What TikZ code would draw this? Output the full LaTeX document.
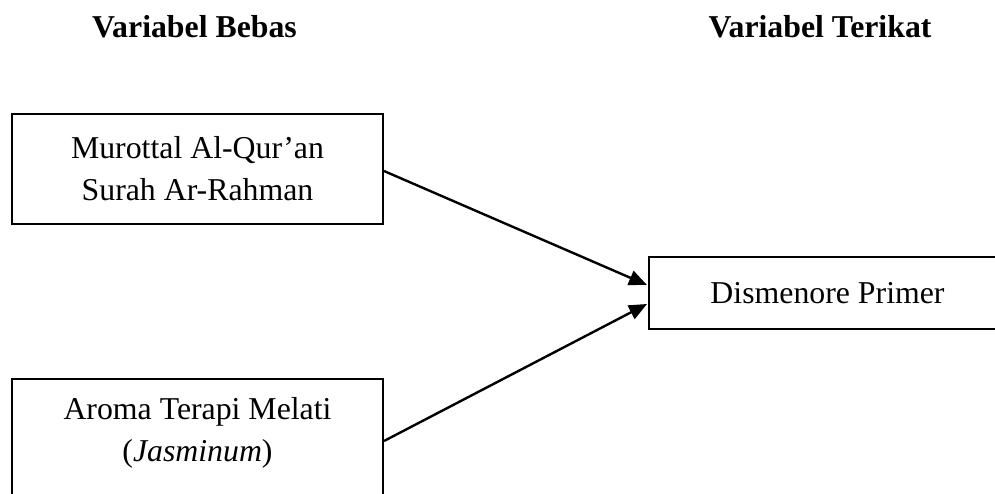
\documentclass[tikz,border=0pt]{standalone}
\usepackage{fontspec}
\setmainfont{Liberation Serif}
\usetikzlibrary{arrows.meta,calc}
\tikzset{
  box/.style={draw=black, line width=2pt, rectangle, inner sep=0pt, align=center},
  txt/.style={inner sep=0pt, align=center},
  ttl/.style={inner sep=0pt, font=\fontsize{31.8}{42}\selectfont\bfseries},
  conn/.style={line width=2.4pt, -{Triangle[length=18pt,width=15pt]}}
}
\begin{document}
\begin{tikzpicture}[x=1pt,y=-1pt,font=\fontsize{31.8}{42}\selectfont]
\useasboundingbox (0,0) rectangle (995,493);
\clip (0,0) rectangle (995,493);
\node[ttl, anchor=base] (tl) at (194.5,37) {Variabel Bebas};
\node[ttl, anchor=base] (tr) at (820,37) {Variabel Terikat};
\node[box, minimum width=371pt, minimum height=110pt] (b1) at (197.5,169)
  {Murottal Al-Qur’an\\Surah Ar-Rahman};
\node[box, anchor=north, minimum width=371pt, minimum height=160pt] (b3) at (197.5,378) {};
\node[txt] (t3) at (197.5,433) {Aroma Terapi Melati\\(\textit{Jasminum})};
\node[box, anchor=west, minimum width=357pt, minimum height=72pt] (r) at (648,293)
  {Dismenore Primer};
\draw[conn] ($(b1.east)+(0,2)$) -- ($(r.west)+(-1,-8)$);
\draw[conn] ($(b3.north east)+(0,63)$) -- ($(r.west)+(-1,11)$);
\end{tikzpicture}
\end{document}
